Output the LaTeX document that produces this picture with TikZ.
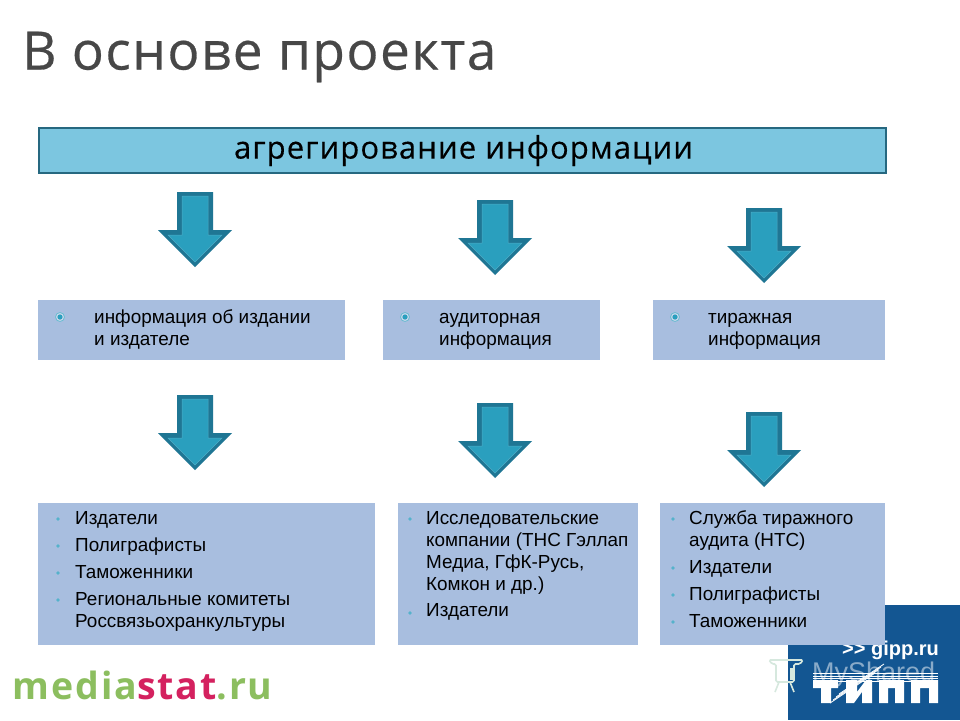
\documentclass[tikz,border=0pt]{standalone}
\usepackage{fontspec}
\setmainfont{Liberation Sans}
\newfontfamily\headfont[LetterSpace=3,FakeBold=0.5]{Open Sans}
\newfontfamily\barfont[LetterSpace=3.5,FakeBold=0.3]{Open Sans}
\newfontfamily\logofont[LetterSpace=5]{Open Sans}
\usetikzlibrary{positioning,calc}
\definecolor{barblue}{RGB}{124,198,224}
\definecolor{barline}{RGB}{38,104,128}
\definecolor{boxblue}{RGB}{168,190,223}
\definecolor{arrowdark}{RGB}{31,118,148}
\definecolor{arrowfill}{RGB}{42,159,190}
\definecolor{arrowedge}{RGB}{78,172,198}
\definecolor{logoblue}{RGB}{19,86,146}
\definecolor{mediagreen}{RGB}{140,190,95}
\definecolor{mediared}{RGB}{212,33,95}
\definecolor{markpale}{RGB}{214,232,222}
\tikzstyle{infobox} = [rectangle, fill=boxblue, outer sep=0pt, inner sep=0pt, anchor=north west, text=black]
\tikzstyle{itemtext} = [anchor=north west, inner sep=0pt, align=left, font=\fontsize{18.9}{22}\selectfont]
\tikzstyle{ringdot} = [circle, minimum size=9pt, inner sep=0pt, draw=arrowfill!70, fill=boxblue!60!white, line width=0.8pt, path picture={\fill[arrowfill] (path picture bounding box.center) circle (2.6pt);}]
\tikzstyle{smalldot} = [circle, minimum size=3.6pt, inner sep=0pt, fill=arrowfill!80]
\tikzset{downarrow/.pic={
\fill[arrowdark] (-18,0) -- (18,0) -- (18,38) -- (37,38) -- (0,75) -- (-37,38) -- (-18,38) -- cycle;
\filldraw[fill=arrowfill, draw=arrowedge, line width=0.5pt] (-13,4) -- (13,4) -- (13,43) -- (27,43) -- (0,70) -- (-27,43) -- (-13,43) -- cycle;
}}
\begin{document}
\begin{tikzpicture}[x=1pt,y=-1pt]
\useasboundingbox (0,0) rectangle (960,720);
\fill[white] (0,0) rectangle (960,720);
% Logo in the corner
\fill[logoblue] (788,605) rectangle (960,720);
\node[anchor=east, inner sep=0pt, text=white, font=\fontsize{20}{20}\selectfont\bfseries] (gipp) at (939,650) {{>}{>} gipp.ru};
\fill[white] (813,680) rectangle (838,688) (821,680) rectangle (831,703);
\fill[white] (846,703) -- (846,680) -- (857,680) -- (857,692) -- (866,680) -- (872,680) -- (872,703) -- (862,703) -- (862,692) -- (854,703) -- cycle;
\fill[white] (879,680) rectangle (904,688) (879,680) rectangle (888,703) (895,680) rectangle (904,703);
\fill[white] (911,680) rectangle (938,688) (911,680) rectangle (920,703) (929,680) rectangle (938,703);
\foreach \y in {673,676,678,681} \draw[white, line width=0.8pt] (813,\y) -- (938,\y);
\foreach \d in {0,3,6,9} \draw[white, line width=0.8pt] (830+\d,703-\d) -- (875+\d,673-\d);
\node[anchor=west, inner sep=0pt, text=white, opacity=0.5, font=\fontsize{27}{27}\selectfont] (shared) at (812,675) {MyShared};
% Pale projector mark
\draw[markpale, line width=1.6pt, rounded corners=1.5pt] (769,660) -- (803,660) -- (800,664) -- (794,664) -- (794,682) -- (776,682) -- (776,664) -- (772,664) -- cycle;
\fill[markpale] (790,668) rectangle (795,680);
\draw[markpale, line width=1.6pt] (779,682) -- (775,692) (790,682) -- (794,692);
% Title
\node[anchor=west, inner sep=0pt, text=black!72, font=\fontsize{53}{53}\selectfont\headfont] (title) at (22,57) {В основе проекта};
% Top bar
\node[rectangle, anchor=north west, minimum width=847pt, minimum height=45pt, fill=barblue, draw=barline, line width=2pt, font=\fontsize{31}{31}\selectfont\barfont] (bar) at (38,127) {\hspace{2pt}\raisebox{-2pt}{агрегирование информации}};
% Three boxes
\node[infobox, minimum width=307pt, minimum height=60pt] (infoA) at (38,300) {};
\node[infobox, minimum width=217pt, minimum height=60pt, right=38pt of infoA.north east, anchor=north west] (infoB) {};
\node[infobox, minimum width=232pt, minimum height=60pt, right=53pt of infoB.north east, anchor=north west] (infoC) {};
\node[itemtext] (textA) at (94,307.5) {\strut информация об издании\\и издателе};
\node[itemtext] (textB) at (439,307.5) {\strut аудиторная\\информация};
\node[itemtext] (textC) at (708,307.5) {\strut тиражная\\информация};
\node[ringdot] (dotA) at (60,317) {};
\node[ringdot] (dotB) at (405,317) {};
\node[ringdot] (dotC) at (675,317) {};
% Lower boxes
\node[infobox, minimum width=337pt, minimum height=142pt, below=143pt of infoA.south west, anchor=north west] (whoA) {};
\node[infobox, minimum width=240pt, minimum height=142pt, right=23pt of whoA.north east, anchor=north west] (whoB) {};
\node[infobox, minimum width=225pt, minimum height=142pt, right=22pt of whoB.north east, anchor=north west] (whoC) {};
\node[itemtext] (listA) at (75,508.5) {\strut Издатели\\[5pt]Полиграфисты\\[5pt]Таможенники\\[5pt]Региональные комитеты\\Россвязьохранкультуры};
\node[itemtext] (listB) at (426,508.5) {\strut Исследовательские\\компании (ТНС Гэллап\\Медиа, ГфК-Русь,\\Комкон и др.)\\[4pt]Издатели};
\node[itemtext] (listC) at (689,508.5) {\strut Служба тиражного\\аудита (НТС)\\[5pt]Издатели\\[5pt]Полиграфисты\\[5pt]Таможенники};
\foreach \x/\y in {58/519,58/546,58/573,58/600,410/519,410/613,673/519,673/568,673/595,673/622}
  \node[smalldot] at (\x,\y) {};
% Arrows
\pic (arrowA) at (195,192) {downarrow};
\pic (arrowB) at (495,200) {downarrow};
\pic (arrowC) at (764,208) {downarrow};
\pic (arrowD) at (195,395) {downarrow};
\pic (arrowE) at (495,403) {downarrow};
\pic (arrowF) at (764,412) {downarrow};
% Site name
\node[anchor=west, inner sep=0pt, font=\fontsize{37.5}{37.5}\selectfont\logofont\bfseries] (site) at (12.5,685.5) {\textcolor{mediagreen}{media}\textcolor{mediared}{stat}\textcolor{mediagreen}{.ru}};
\end{tikzpicture}
\end{document}
